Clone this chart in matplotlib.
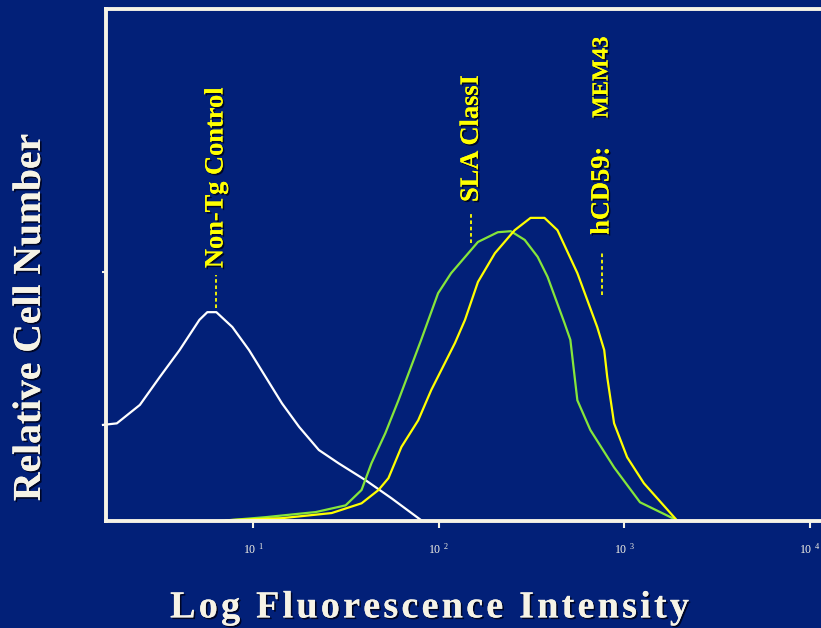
import matplotlib.pyplot as plt
import matplotlib.patheffects as pe
import numpy as np

# Daten
ctrl_x = [1.55, 1.84, 2.45, 3.13, 4.01, 5.13, 5.66, 6.33, 7.72, 9.5, 11.7, 14.3,
          17.7, 22.6, 28.9, 40.4, 55.6, 80.5]
ctrl_y = [18.8, 19.1, 22.7, 28.1, 33.4, 39.3, 40.8, 40.8, 37.9, 33.4, 28.1, 23.0,
          18.4, 13.9, 11.3, 8.0, 4.5, 0.2]

sla_x = [6.34, 11.7, 21.8, 31.5, 38.4, 43.4, 51.6, 60.7, 80.5, 99.3, 116.7, 162.9,
         208.4, 244.8, 291.1, 341.8, 386.5, 476.7, 513, 559.6, 657.6, 883, 1218, 1923]
sla_y = [0.0, 0.8, 1.8, 3.1, 6.1, 11.3, 17.2, 23.6, 35.4, 44.5, 48.4, 54.5,
         56.4, 56.6, 54.9, 51.6, 47.7, 38.7, 35.4, 23.6, 17.8, 10.5, 3.7, 0.2]

cd59_x = [7.17, 14.3, 26.5, 38.4, 47.4, 53.6, 63.0, 77.6, 91.2, 122.5, 138.7, 162.9,
          201, 257, 313, 372, 437, 560, 716, 781, 811, 883, 1038, 1279, 1923]
cd59_y = [0.2, 0.6, 1.6, 3.5, 6.1, 8.4, 14.5, 19.7, 25.6, 34.8, 39.3, 46.7,
          52.3, 56.8, 59.2, 59.2, 56.8, 48.4, 37.9, 33.4, 28.1, 19.1, 12.5, 7.4, 0.2]

tick_pos = [10, 100, 1000, 10000]
tick_labels = [r'$\mathregular{10\;^{1}}$', r'$\mathregular{10\;^{2}}$',
               r'$\mathregular{10\;^{3}}$', r'$\mathregular{10\;^{4}}$']

bg = '#022078'
cream = '#F6F3E6'
yellow = '#FFFF00'
green = '#86E63A'

plt.rcParams['font.family'] = ['Liberation Serif', 'DejaVu Serif']
plt.rcParams['mathtext.fontset'] = 'custom'
plt.rcParams['mathtext.rm'] = 'Liberation Serif:bold'

fig = plt.figure(figsize=(8.21, 6.28), dpi=100, facecolor=bg)
ax = fig.add_axes([0.129, 0.170, 0.871 + 0.02, 0.816])
ax.set_facecolor(bg)

ax.plot(ctrl_x, ctrl_y, color='white', lw=1.6, clip_on=False, solid_joinstyle='round')
ax.plot(sla_x, sla_y, color=green, lw=1.6, solid_joinstyle='round')
ax.plot(cd59_x, cd59_y, color=yellow, lw=1.6, solid_joinstyle='round')

ax.set_xscale('log')
ax.set_xlim(10 ** 0.206, 10 ** 4.15)
ax.set_ylim(0, 100)

for s in ['left', 'top', 'bottom']:
    ax.spines[s].set_color(cream)
    ax.spines[s].set_linewidth(2.8)
ax.spines['right'].set_visible(False)

ax.set_xticks(tick_pos)
ax.set_xticklabels(tick_labels)
ax.xaxis.set_minor_locator(plt.NullLocator())
ax.tick_params(axis='x', colors=cream, length=5, width=1.5, direction='out', pad=10,
               labelsize=8.5)
ax.set_yticks([48.6])
ax.set_yticklabels([''])
ax.tick_params(axis='y', colors=cream, length=3, width=1.5, direction='out', pad=4)

shadow = [pe.withSimplePatchShadow(offset=(1.2, -1.2), shadow_rgbFace='#000010', alpha=0.8),
          pe.Normal()]

fig.text(0.037, 0.494, 'Relative Cell Number', rotation=90, color=cream,
         fontsize=28.5, fontweight='bold', ha='center', va='center', path_effects=shadow)
xl = 'L o g  F l u o r e s c e n c e  I n t e n s i t y'.replace('  ', '\u2004\u200a').replace(' ', '\u200a')
fig.text(0.524, 0.032, xl, color=cream, fontsize=27.5, fontweight='bold',
         ha='center', va='center', path_effects=shadow)

# Beschriftungen der Kurven: (Text, x, Strich unten, Strich oben, Textanfang)
labels = [('Non-Tg Control', 6.3, 41.6, 48.0, 49.4),
          ('SLA ClassI', 150, 54.3, 60.2, 62.3),
          ('hCD59:', 760, 44.1, 52.3, 55.9)]
for txt, xv, y0, y1, yt in labels:
    ax.plot([xv, xv], [y0, y1], color=yellow, lw=1.3, ls=(0, (2, 1.5)))
    ax.text(xv, yt, txt, rotation=90, color=yellow, fontsize=19,
            fontweight='bold', ha='center', va='bottom', path_effects=shadow)
ax.text(760, 78.7, 'MEM43', rotation=90, color=yellow, fontsize=16.5,
        fontweight='bold', ha='center', va='bottom', path_effects=shadow)

fig.savefig('out.png', facecolor=bg)
